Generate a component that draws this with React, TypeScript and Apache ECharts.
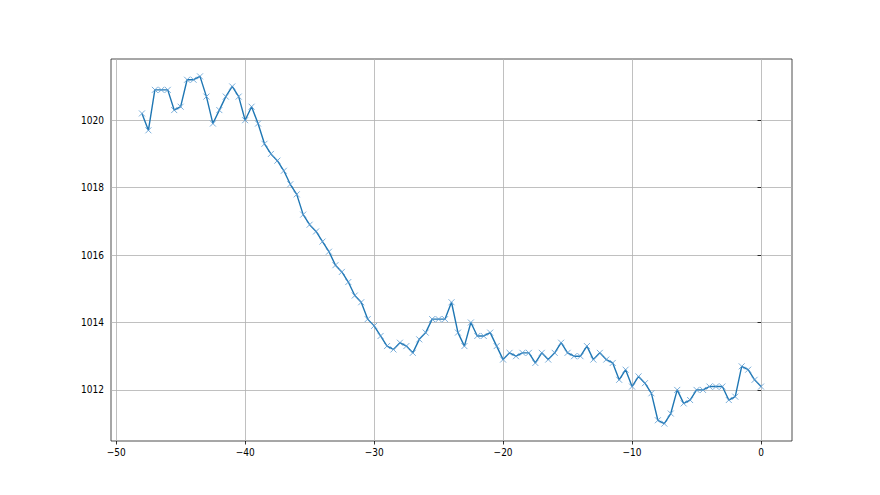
import React, { useEffect, useRef } from "react";
import * as echarts from "echarts";

const hours: number[] = [];
for (let i = 0; i <= 96; i++) hours.push(-48 + i * 0.5);

const pressure = [
  1020.2, 1019.7, 1020.9, 1020.9, 1020.9, 1020.3, 1020.4, 1021.2, 1021.2, 1021.3,
  1020.7, 1019.9, 1020.3, 1020.7, 1021.0, 1020.7, 1020.0, 1020.4, 1019.9, 1019.3,
  1019.0, 1018.8, 1018.5, 1018.1, 1017.8, 1017.2, 1016.9, 1016.7, 1016.4, 1016.1,
  1015.7, 1015.5, 1015.2, 1014.8, 1014.6, 1014.1, 1013.9, 1013.6, 1013.3, 1013.2,
  1013.4, 1013.3, 1013.1, 1013.5, 1013.7, 1014.1, 1014.1, 1014.1, 1014.6, 1013.7,
  1013.3, 1014.0, 1013.6, 1013.6, 1013.7, 1013.3, 1012.9, 1013.1, 1013.0, 1013.1,
  1013.1, 1012.8, 1013.1, 1012.9, 1013.1, 1013.4, 1013.1, 1013.0, 1013.0, 1013.3,
  1012.9, 1013.1, 1012.9, 1012.8, 1012.3, 1012.6, 1012.1, 1012.4, 1012.2, 1011.9,
  1011.1, 1011.0, 1011.3, 1012.0, 1011.6, 1011.7, 1012.0, 1012.0, 1012.1, 1012.1,
  1012.1, 1011.7, 1011.8, 1012.7, 1012.6, 1012.3, 1012.1,
];

const xTicks = [-50, -40, -30, -20, -10, 0];
const yTicks = [1012, 1014, 1016, 1018, 1020];

const fmt = (v: number) => (v < 0 ? "\u2212" + Math.abs(v) : String(v));
const FONT = "'Liberation Sans Narrow', 'DejaVu Sans Condensed', sans-serif";

export default function App() {
  const ref = useRef<HTMLDivElement>(null);
  useEffect(() => {
    if (!ref.current) return;
    const chart = echarts.init(ref.current, null, { renderer: "svg" });
    const xMin = -48, xMax = 0;
    const xm = (xMax - xMin) * 0.05;
    const yMinD = Math.min(...pressure), yMaxD = Math.max(...pressure);
    const ym = (yMaxD - yMinD) * 0.05;
    const axisCommon = {
      axisLine: { show: false },
      axisTick: { show: true, inside: false, length: 3.5, lineStyle: { color: "#000", width: 0.8 } },
      splitLine: { show: true, lineStyle: { color: "#b0b0b0", width: 0.8 } },
    };
    chart.setOption({
      animation: false,
      backgroundColor: "#ffffff",
      textStyle: { fontFamily: FONT },
      grid: {
        left: 111,
        right: 88,
        top: 59,
        bottom: 54,
        show: true,
        borderColor: "#222",
        borderWidth: 0.8,
        backgroundColor: "transparent",
      },
      xAxis: {
        type: "value",
        min: xMin - xm,
        max: xMax + xm,
        ...axisCommon,
        axisTick: { ...axisCommon.axisTick, customValues: xTicks },
        axisLabel: {
          customValues: xTicks,
          formatter: fmt,
          color: "#000",
          fontSize: 10,
          margin: 6,
          fontFamily: FONT,
        },
      },
      yAxis: {
        type: "value",
        min: yMinD - ym,
        max: yMaxD + ym,
        ...axisCommon,
        axisTick: { ...axisCommon.axisTick, customValues: yTicks },
        axisLabel: {
          customValues: yTicks,
          formatter: (v: number) => String(v),
          color: "#000",
          fontSize: 10,
          margin: 7,
          fontFamily: FONT,
        },
      },
      series: [
        {
          type: "line",
          data: hours.map((h, i) => [h, pressure[i]]),
          lineStyle: { color: "#1f77b4", width: 1.4 },
          symbol: "path://M0,0L10,10M10,0L0,10",
          symbolSize: 6,
          showSymbol: true,
          showAllSymbol: true,
          itemStyle: { color: "transparent", borderColor: "#5a9bd0", borderWidth: 0.8 },
          emphasis: { disabled: true },
        },
      ],
    });
    return () => chart.dispose();
  }, []);
  return <div ref={ref} style={{ width: 880, height: 495, position: "absolute", left: 0, top: 0 }} />;
}
